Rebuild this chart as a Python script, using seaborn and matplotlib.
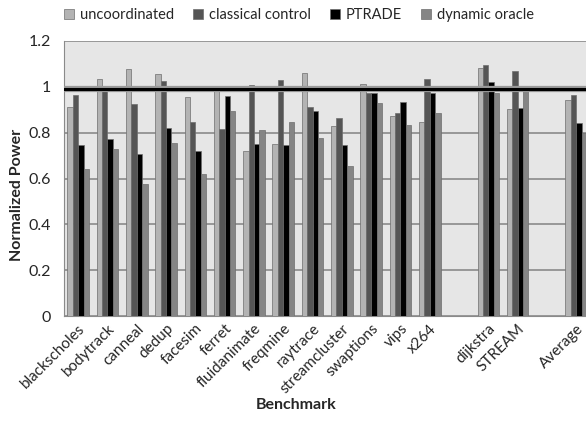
import pandas as pd
import numpy as np
import matplotlib
matplotlib.use("Agg")
import matplotlib.pyplot as plt
import seaborn as sns
from matplotlib.ticker import FixedLocator, FuncFormatter

# benchmark slots (blank slots separate the groups)
benchmarks = ['blackscholes', 'bodytrack', 'canneal', 'dedup', 'facesim', 'ferret',
              'fluidanimate', 'freqmine', 'raytrace', 'streamcluster', 'swaptions',
              'vips', 'x264', ' ', 'dijkstra', 'STREAM', '  ', 'Average']
series = ['uncoordinated', 'classical control', 'PTRADE', 'dynamic oracle']

uncoordinated = [0.91, 1.033, 1.076, 1.056, 0.954, 1.0, 0.72, 0.75, 1.059, 0.828, 1.012,
                 0.871, 0.847, np.nan, 1.082, 0.903, np.nan, 0.941]
classical = [0.964, 0.99, 0.925, 1.027, 0.845, 0.815, 1.008, 1.03, 0.912, 0.864, 0.972,
             0.887, 1.036, np.nan, 1.094, 1.068, np.nan, 0.963]
ptrade = [0.745, 0.771, 0.705, 0.819, 0.719, 0.958, 0.752, 0.746, 0.893, 0.745, 0.972,
          0.935, 0.972, np.nan, 1.02, 0.906, np.nan, 0.842]
oracle = [0.64, 0.727, 0.576, 0.755, 0.618, 0.895, 0.81, 0.845, 0.777, 0.655, 0.929,
          0.833, 0.886, np.nan, 0.973, 0.982, np.nan, 0.797]
budget = 0.99

colors = ['#b3b3b3', '#555555', '#000000', '#858585']

df = pd.DataFrame({'Benchmark': benchmarks, 'uncoordinated': uncoordinated,
                   'classical control': classical, 'PTRADE': ptrade,
                   'dynamic oracle': oracle})
long_df = df.melt(id_vars='Benchmark', var_name='series', value_name='power')

sns.set_style("white")
plt.rcParams['font.family'] = ['Lato', 'DejaVu Sans']

fig = plt.figure(figsize=(5.86, 4.25), dpi=100)
ax = fig.add_axes([63.5 / 586, 1 - 316 / 425, 527.4 / 586, 275 / 425])
ax.set_facecolor('#e6e6e6')

sns.barplot(data=long_df, x='Benchmark', y='power', hue='series', order=benchmarks,
            hue_order=series, palette=colors, width=0.74, gap=0, ax=ax,
            edgecolor='#6e6e6e', linewidth=0.5, legend=True, zorder=3)

ax.set_ylim(0, 1.2)
ax.set_xlim(-0.5, len(benchmarks) - 0.5)
ax.yaxis.set_major_locator(FixedLocator([0, 0.2, 0.4, 0.6, 0.8, 1.0, 1.2]))
ax.yaxis.set_major_formatter(FuncFormatter(lambda v, p: f"{v:g}"))
ax.grid(axis='y', color='#8a8a8a', linewidth=1.2, zorder=1)
ax.set_axisbelow(True)
ax.axhline(budget, color='#9a9a9a', linewidth=4.5, zorder=5)
ax.axhline(budget, color='black', linewidth=2.2, zorder=6)

for s in ['top', 'right']:
    ax.spines[s].set_visible(False)
ax.spines['left'].set_color('#8a8a8a')
ax.spines['bottom'].set_color('#8a8a8a')

ax.set_xticks(np.arange(len(benchmarks)))
ax.set_xticklabels([b.strip() for b in benchmarks], rotation=45, ha='right',
                   rotation_mode='anchor', fontsize=11)
ax.tick_params(axis='x', which='major', length=0, pad=4)
ax.set_xticks(np.arange(len(benchmarks) + 1) - 0.5, minor=True)
ax.tick_params(axis='x', which='minor', length=5, color='#8a8a8a', direction='out')
ax.tick_params(axis='y', length=0, labelsize=11.5, pad=9)

ax.set_xlabel('')
fig.text(296 / 586, 1 - 405 / 425, 'Benchmark', fontsize=11.5, fontweight='bold',
         ha='center', va='center')
ax.set_ylabel('')
fig.text(17 / 586, 1 - 195 / 425, 'Normalized Power', fontsize=11.5, fontweight='bold',
         ha='center', va='center', rotation=90)

handles, labels = ax.get_legend_handles_labels()
ax.legend_.remove()
fig.legend(handles, labels, loc='center', bbox_to_anchor=(299 / 586, 1 - 15 / 425),
           ncol=4, frameon=False, fontsize=10.5, handlelength=0.7, handleheight=0.7,
           handletextpad=0.4, columnspacing=1.3)

fig.savefig('out.png', dpi=100)
